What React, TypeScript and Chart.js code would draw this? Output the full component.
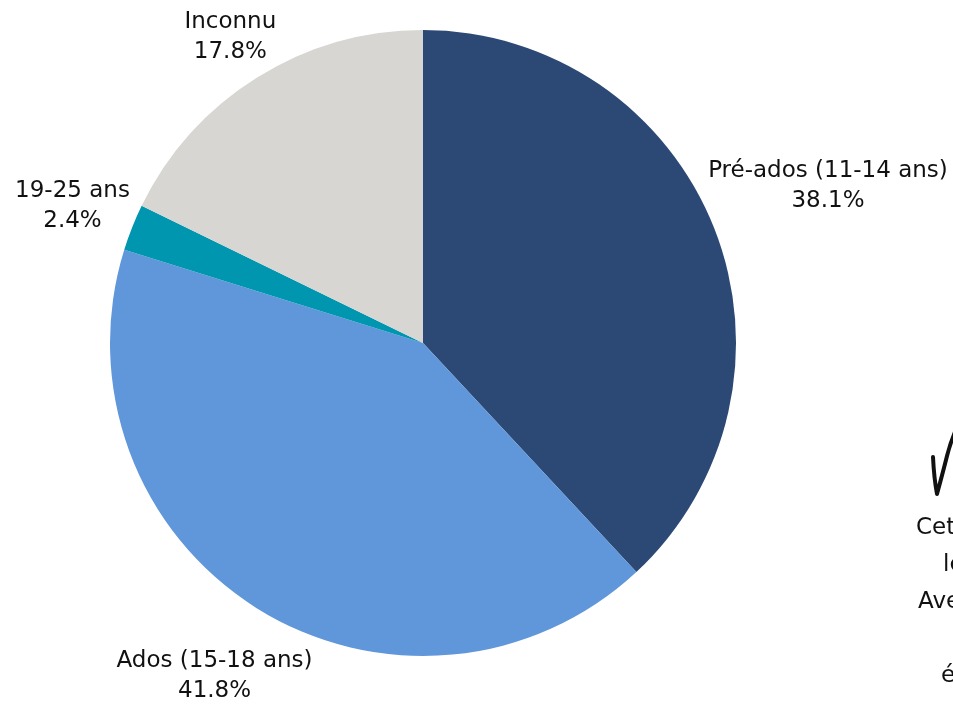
import React, { useEffect, useRef } from "react";
import { Chart, registerables } from "chart.js";

Chart.register(...registerables);

const categories = ["Pré-ados (11-14 ans)", "Ados (15-18 ans)", "19-25 ans", "Inconnu"];
const values = [38.1, 41.8, 2.4, 17.8];
const colors = ["#2C4875", "#5F97DA", "#0096B0", "#D7D6D2"];
const noteLines = ["Cette", "les", "Avec", "", "été"];
const noteStarts = [916, 943, 918, 930, 941];

const FONT_FAMILY = "'DejaVu Sans', sans-serif";
const FONT_SIZE = 23;
const LINE = 30;

const labelPlugin = {
  id: "outLabels",
  afterDatasetsDraw(chart: any) {
    const ctx = chart.ctx as CanvasRenderingContext2D;
    const meta = chart.getDatasetMeta(0);
    ctx.save();
    ctx.font = `${FONT_SIZE}px ${FONT_FAMILY}`;
    ctx.fillStyle = "#111111";
    ctx.textAlign = "center";
    ctx.textBaseline = "middle";
    meta.data.forEach((arc: any, i: number) => {
      const p = arc.getProps(["x", "y", "startAngle", "endAngle", "outerRadius"], true);
      const mid = (p.startAngle + p.endAngle) / 2;
      const ux = Math.cos(mid);
      const uy = Math.sin(mid);
      const l1 = categories[i];
      const l2 = values[i].toFixed(1) + "%";
      const w = Math.max(ctx.measureText(l1).width, ctx.measureText(l2).width);
      const h = LINE * 2 + 4;
      const r = p.outerRadius - 1 + (Math.abs(ux) * w) / 2 + (Math.abs(uy) * h) / 2;
      const cx = p.x + ux * r;
      const cy = p.y + uy * r + 2;
      ctx.fillText(l1, cx, cy - LINE / 2);
      ctx.fillText(l2, cx, cy + LINE / 2);
    });

    // side annotation (clipped at the right edge, as in the reference)
    ctx.textAlign = "left";
    noteLines.forEach((t, i) => {
      if (!t) return;
      ctx.fillText(t, noteStarts[i], 528 + i * 37);
    });
    // hand-drawn arrow
    ctx.strokeStyle = "#111111";
    ctx.lineWidth = 4;
    ctx.lineCap = "round";
    ctx.lineJoin = "round";
    ctx.beginPath();
    ctx.moveTo(933, 457);
    ctx.quadraticCurveTo(934, 478, 937, 494);
    ctx.quadraticCurveTo(943, 472, 947, 456);
    ctx.quadraticCurveTo(950, 444, 955, 432);
    ctx.stroke();
    ctx.restore();
  },
};

export default function App() {
  const ref = useRef<HTMLCanvasElement | null>(null);
  useEffect(() => {
    if (!ref.current) return;
    const chart = new Chart(ref.current, {
      type: "pie",
      data: {
        labels: categories,
        datasets: [
          {
            data: values,
            backgroundColor: colors,
            borderWidth: 0,
          },
        ],
      },
      options: {
        responsive: false,
        animation: false,
        devicePixelRatio: 1,
        layout: { padding: { top: 30, bottom: 48, left: 110, right: 217 } },
        plugins: {
          legend: { display: false },
          tooltip: { enabled: false },
        },
      },
      plugins: [labelPlugin],
    });
    return () => chart.destroy();
  }, []);
  return (
    <div
      style={{
        position: "fixed",
        left: 0,
        top: 0,
        width: 953,
        height: 704,
        overflow: "hidden",
        background: "#ffffff",
      }}
    >
      <canvas ref={ref} width={953} height={704} style={{ display: "block" }} />
    </div>
  );
}
